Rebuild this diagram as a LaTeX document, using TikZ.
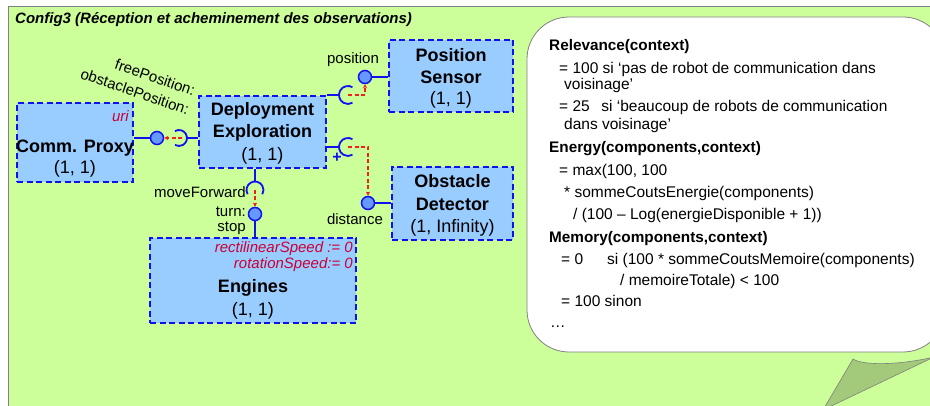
\documentclass[tikz,border=0pt]{standalone}
\usepackage{fontspec}
\setmainfont{Liberation Sans}
\usetikzlibrary{arrows.meta}
\definecolor{bggreen}{HTML}{CCFF99}
\definecolor{boxblue}{HTML}{99CCFF}
\definecolor{lineblue}{HTML}{1010F0}
\definecolor{ballblue}{HTML}{6699FF}
\definecolor{dashred}{HTML}{F02020}
\definecolor{attrred}{HTML}{CC0033}
\definecolor{tailgreen}{HTML}{A3C97A}
\definecolor{edgegray}{HTML}{808080}
\begin{document}
\begin{tikzpicture}[x=1pt,y=-1pt,
  comp/.style={draw=lineblue, fill=boxblue, line width=1.8pt, dash pattern=on 6pt off 3.5pt, inner sep=0pt},
  ball/.style={circle, draw=lineblue, fill=ballblue, line width=1.5pt, minimum size=13pt, inner sep=0pt},
  iface/.style={draw=lineblue, line width=1.8pt},
  req/.style={draw=dashred, line width=1.2pt, dash pattern=on 4pt off 2.5pt, -{Stealth[length=4pt,width=4pt]}},
  ttl/.style={font=\fontsize{18}{21}\selectfont\bfseries, inner sep=0pt, anchor=base},
  cnt/.style={font=\fontsize{18}{21}\selectfont, inner sep=0pt, anchor=base},
  lbl/.style={font=\fontsize{15}{18}\selectfont, inner sep=0pt},
  attr/.style={font=\fontsize{15}{18}\selectfont\itshape, text=attrred, inner sep=0pt, anchor=base east},
  txt/.style={font=\fontsize{15.5}{18}\selectfont, inner sep=0pt, anchor=base west},
  txtb/.style={font=\fontsize{15.3}{18}\selectfont\bfseries, inner sep=0pt, anchor=base west},
  plussign/.style={font=\fontsize{16}{18}\selectfont\bfseries, text=lineblue, inner sep=0pt}
]
\useasboundingbox (0,0) rectangle (930,406);
% background
\fill[bggreen] (8,7) rectangle (934,410);
\draw[edgegray, line width=1pt] (8,410) -- (8,7) -- (934,7);
\node[font=\fontsize{15}{18}\selectfont\bfseries\itshape, inner sep=0pt, anchor=base west] (title) at (15,24) {Config3 (Réception et acheminement des observations)};

% speech bubble
\draw[edgegray, line width=0.8pt, fill=white, rounded corners=42pt] (527,17) rectangle (945,352);
\filldraw[fill=tailgreen, draw=edgegray, line width=0.6pt] (853,359) .. controls (862,365) and (895,366) .. (934,357) -- (823,410) -- cycle;

\node[txtb] (r1) at (549,50.5) {Relevance(context)};
\node[txt] (r2) at (559,73.5) {= 100 si ‘pas de robot de communication dans};
\node[txt] (r3) at (564,90) {voisinage’};
\node[txt] (r4) at (559,111.5) {= 25\hspace{0.75em}si ‘beaucoup de robots de communication};
\node[txt] (r5) at (564,129.5) {dans voisinage’};
\node[txtb] (e1) at (549,152.5) {Energy(components,context)};
\node[txt] (e2) at (559,175.5) {= max(100, 100};
\node[txt] (e3) at (564,197.5) {* sommeCoutsEnergie(components)};
\node[txt] (e4) at (573,220) {/ (100 – Log(energieDisponible + 1))};
\node[txtb] (m1) at (549,242.5) {Memory(components,context)};
\node[txt] (m2) at (561,264.5) {= 0};
\node[txt] (m2b) at (607,264.5) {si (100 * sommeCoutsMemoire(components)};
\node[txt] (m3) at (620,286) {/ memoireTotale) < 100};
\node[txt] (m4) at (561,306.5) {= 100 sinon};
\node[txt] (m5) at (550,328) {…};

% components
\node[comp, minimum width=116pt, minimum height=79pt] (proxy) at (75,142.5) {};
\node[comp, minimum width=127pt, minimum height=72pt] (deploy) at (262.5,132) {};
\node[comp, minimum width=124pt, minimum height=72pt] (possens) at (451,76) {};
\node[comp, minimum width=121pt, minimum height=73pt] (obst) at (452.5,203.5) {};
\node[comp, minimum width=206pt, minimum height=85pt] (engines) at (253,280.5) {};

\node[attr] (uri) at (129,122) {uri};
\node[ttl] (proxyT) at (75,153) {Comm. Proxy};
\node[cnt] (proxyC) at (75,174) {(1, 1)};

\node[ttl] (deployT1) at (262.5,116) {Deployment};
\node[ttl] (deployT2) at (262.5,138) {Exploration};
\node[cnt] (deployC) at (262.5,161) {(1, 1)};

\node[ttl] (posT1) at (451,62) {Position};
\node[ttl] (posT2) at (451,83.5) {Sensor};
\node[cnt] (posC) at (451,105) {(1, 1)};

\node[ttl] (obstT1) at (452.5,188) {Obstacle};
\node[ttl] (obstT2) at (452.5,211) {Detector};
\node[cnt] (obstC) at (452.5,233) {(1, Infinity)};

\node[attr] (attr1) at (353,253) {rectilinearSpeed := 0};
\node[attr] (attr2) at (353,269) {rotationSpeed:= 0};
\node[ttl] (engT) at (253,293) {Engines};
\node[cnt] (engC) at (253,316) {(1, 1)};

% ports
\node[ball] (b1) at (157,138) {};
\node[ball] (b2) at (365,77) {};
\node[ball] (b3) at (368,203) {};
\node[ball] (b4) at (255,214) {};
\coordinate (s1) at (179,138);
\coordinate (s2) at (348,95);
\coordinate (s3) at (348,147);
\coordinate (s4) at (255,190);

\draw[iface] (b1) -- (b1 -| proxy.east);
\draw[iface] (s1) ++(120:8pt) arc[start angle=120, end angle=-120, radius=8pt];
\draw[iface] ([xshift=8pt]s1) -- (s1 -| deploy.west);

\draw[iface] (s2) ++(60:9pt) arc[start angle=60, end angle=300, radius=9pt];
\draw[iface] (s2 -| deploy.east) -- ([xshift=-9pt]s2);
\draw[iface] (b2) -- (b2 -| possens.west);

\draw[iface] (s3) ++(60:9pt) arc[start angle=60, end angle=300, radius=9pt];
\draw[iface] (s3 -| deploy.east) -- ([xshift=-9pt]s3);
\draw[iface] (b3) -- (b3 -| obst.west);

\draw[iface] (s4) ++(210:8.5pt) arc[start angle=210, end angle=-30, radius=8.5pt];
\draw[iface] (s4 |- deploy.south) -- ([yshift=8.5pt]s4);
\draw[iface] (b4) -- (b4 |- engines.north);

\draw[req] ([xshift=3pt]s1) -- (b1);
\draw[req] (s2) -| (b2);
\draw[req] (s3) -| (b3);
\draw[req] (s4) -- (b4);

\node[plussign] (plus) at (337,158) {+};

% labels
\node[lbl, anchor=base] (lpos) at (353,64) {position};
\node[lbl, anchor=base] (ldist) at (355,225) {distance};
\node[lbl, anchor=base east] (lmove) at (246,198) {moveForward};
\node[lbl, anchor=base east] (lturn) at (246,217) {turn:};
\node[lbl, anchor=base east] (lstop) at (246,232) {stop};
\node[lbl, anchor=base east, rotate=-19] (lfree) at (193,96) {freePosition:};
\node[lbl, anchor=base east, rotate=-19] (lobst) at (187,115) {obstaclePosition:};
\end{tikzpicture}
\end{document}
